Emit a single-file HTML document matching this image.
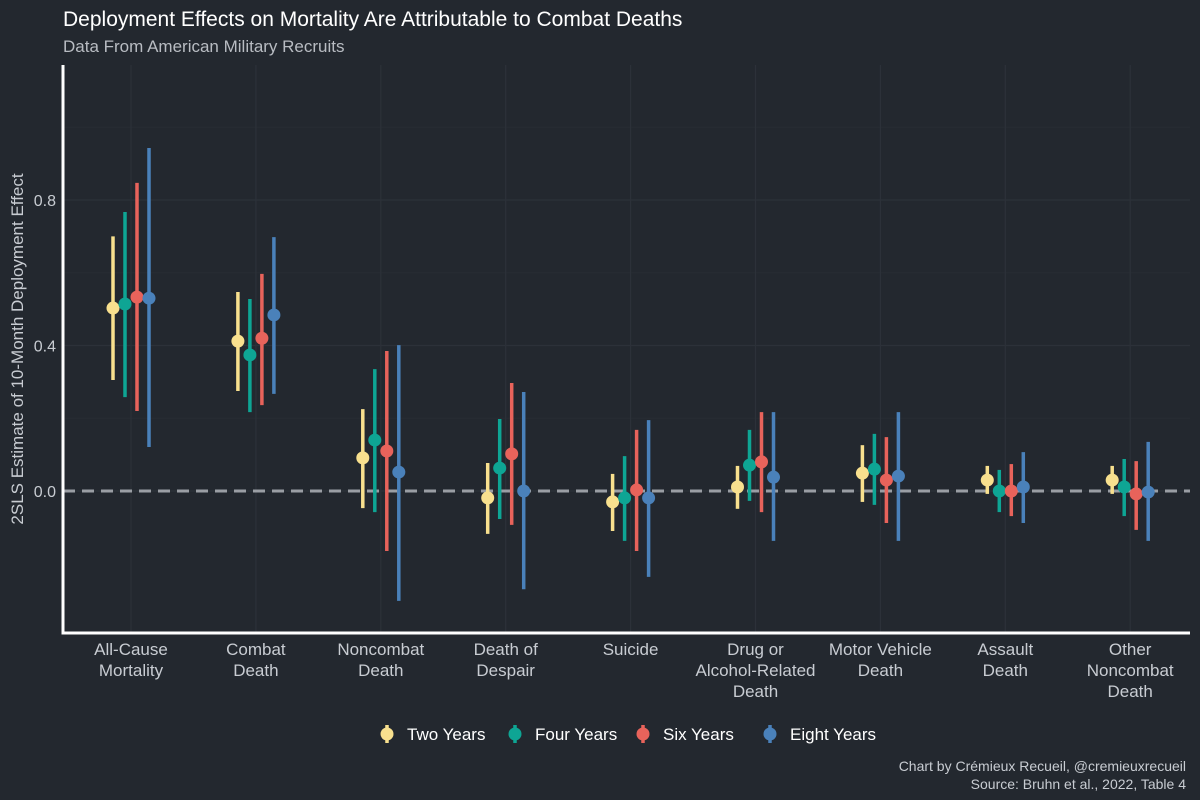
<!DOCTYPE html>
<html><head><meta charset="utf-8"><style>
html,body{margin:0;padding:0;background:#23282f;}
svg{display:block;font-family:"Liberation Sans",sans-serif;}
</style></head><body>
<svg id="chart" width="1200" height="800">
<rect width="1200" height="800" fill="#23282f"/>
<text x="63" y="26" fill="#ffffff" font-size="21">Deployment Effects on Mortality Are Attributable to Combat Deaths</text>
<text x="63" y="52" fill="#b8bcc2" font-size="17">Data From American Military Recruits</text>
<text transform="translate(23,349) rotate(-90)" text-anchor="middle" fill="#c8ccd2" font-size="17">2SLS Estimate of 10-Month Deployment Effect</text>
<g id="grid"></g><g id="marks"></g><g id="axes"></g>
<g id="legend"></g>
<text x="1186" y="771" text-anchor="end" fill="#c8ccd2" font-size="14">Chart by Crémieux Recueil, @cremieuxrecueil</text>
<text x="1186" y="789" text-anchor="end" fill="#c8ccd2" font-size="14">Source: Bruhn et al., 2022, Table 4</text>
</svg>
<script>
const categories=[["All-Cause","Mortality"],["Combat","Death"],["Noncombat","Death"],["Death of","Despair"],["Suicide"],["Drug or","Alcohol-Related","Death"],["Motor Vehicle","Death"],["Assault","Death"],["Other","Noncombat","Death"]];
const seriesNames=["Two Years","Four Years","Six Years","Eight Years"];
const estTwo=[0.503,0.412,0.091,-0.019,-0.030,0.011,0.049,0.030,0.030];
const loTwo=[0.305,0.275,-0.047,-0.118,-0.110,-0.049,-0.030,-0.008,-0.008];
const hiTwo=[0.700,0.547,0.225,0.077,0.047,0.069,0.126,0.069,0.069];
const estFour=[0.514,0.374,0.140,0.063,-0.019,0.071,0.060,0.000,0.011];
const loFour=[0.258,0.217,-0.058,-0.077,-0.137,-0.027,-0.038,-0.058,-0.069];
const hiFour=[0.767,0.528,0.335,0.198,0.096,0.168,0.157,0.058,0.088];
const estSix=[0.533,0.420,0.110,0.102,0.003,0.080,0.030,0.000,-0.008];
const loSix=[0.220,0.236,-0.165,-0.093,-0.165,-0.058,-0.088,-0.069,-0.107];
const hiSix=[0.847,0.597,0.385,0.297,0.168,0.217,0.148,0.074,0.082];
const estEight=[0.530,0.484,0.052,0.000,-0.019,0.038,0.041,0.011,-0.003];
const loEight=[0.121,0.267,-0.302,-0.270,-0.236,-0.137,-0.137,-0.088,-0.137];
const hiEight=[0.943,0.698,0.401,0.272,0.195,0.217,0.217,0.107,0.135];
const yTicks=[0,0.4,0.8];
const yTickLabels=["0.0","0.4","0.8"];

const colors=["#f8e08e","#0ea594","#e8635b","#4a81ba"];
const series=[[estTwo,loTwo,hiTwo],[estFour,loFour,hiFour],[estSix,loSix,hiSix],[estEight,loEight,hiEight]];
const NS="http://www.w3.org/2000/svg";
const L=63,R=1190,T=65,B=633;
const y=v=>491-v*363.75;
const x=i=>131+i*124.9;
const off=[-18,-6,6,18];
function mk(p,tag,attrs){const e=document.createElementNS(NS,tag);for(const k in attrs)e.setAttribute(k,attrs[k]);document.getElementById(p).appendChild(e);return e;}
[0.2,0.6,1.0].forEach(v=>{const e=mk("grid","line",{x1:L,x2:R,y1:y(v),y2:y(v),stroke:"#272c33","stroke-width":1});

});
yTicks.forEach((v,k)=>{const e=mk("grid","line",{x1:L,x2:R,y1:y(v),y2:y(v),stroke:"#2c3139","stroke-width":1.2});


const t=mk("axes","text",{x:56,y:y(v)+6,"text-anchor":"end",fill:"#c8ccd2","font-size":16});t.textContent=yTickLabels[k];

});
categories.forEach((c,i)=>{const e=mk("grid","line",{x1:x(i),x2:x(i),y1:T,y2:B,stroke:"#2c3139","stroke-width":1.2});


const t=mk("axes","text",{x:x(i),"text-anchor":"middle",fill:"#c8ccd2","font-size":17});


c.forEach((ln,j)=>{const s=document.createElementNS(NS,"tspan");s.setAttribute("x",x(i));s.setAttribute("y",655+j*21);s.textContent=ln;t.appendChild(s);});});
const z=mk("grid","line",{x1:L,x2:R,y1:y(0),y2:y(0),stroke:"#9a9ea4","stroke-width":3,"stroke-dasharray":"12,7"});


series.forEach((s,k)=>{s[0].forEach((v,i)=>{const cx=x(i)+off[k];
const l=mk("marks","line",{x1:cx,x2:cx,y1:y(s[2][i]),y2:y(s[1][i]),stroke:colors[k],"stroke-width":3.5});


const p=mk("marks","circle",{cx:cx,cy:y(v),r:6.5,fill:colors[k]});

});});
const ax=mk("axes","line",{x1:L,x2:L,y1:T,y2:B+1.5,stroke:"#fff","stroke-width":3});


const bx=mk("axes","line",{x1:L-1.5,x2:R,y1:B,y2:B,stroke:"#fff","stroke-width":3});


const lx=[387,515,643,770];
seriesNames.forEach((n,k)=>{
const g=mk("legend","line",{x1:lx[k],x2:lx[k],y1:725,y2:743,stroke:colors[k],"stroke-width":3.5});


const c=mk("legend","circle",{cx:lx[k],cy:734,r:6.5,fill:colors[k]});


const t=mk("legend","text",{x:lx[k]+20,y:740,fill:"#ffffff","font-size":17});t.textContent=n;

});
</script>
</body></html>
